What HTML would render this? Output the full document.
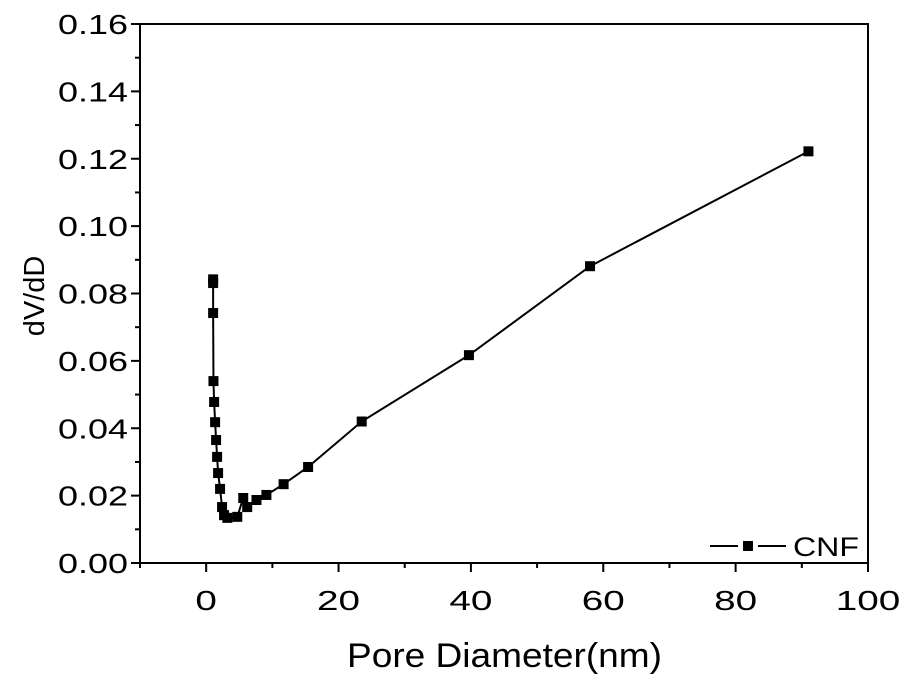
<!DOCTYPE html>
<html><head><meta charset="utf-8"><style>
html,body{margin:0;padding:0;background:#fff;}
svg{display:block;font-family:"Liberation Sans Narrow","Liberation Sans",Arial,sans-serif;}
</style></head><body>
<svg id="chart" width="900" height="679" viewBox="0 0 900 679">
<rect x="0" y="0" width="900" height="679" fill="#fff"/>
<g id="axes"></g><g id="series"></g>
<g>
<line x1="710" y1="546" x2="738" y2="546" stroke="#000" stroke-width="2"/>
<rect x="743" y="541" width="10" height="10" fill="#000"/>
<line x1="758" y1="546" x2="786" y2="546" stroke="#000" stroke-width="2"/>
<text x="793" y="556" font-size="27" textLength="66" lengthAdjust="spacingAndGlyphs">CNF</text>
</g>
<text x="347" y="667" font-size="34" textLength="315" lengthAdjust="spacingAndGlyphs">Pore Diameter(nm)</text>
<text transform="translate(44,296) rotate(-90)" font-size="29" text-anchor="middle">dV/dD</text>
</svg>
<script>
const xVals=[1.05,1.05,1.1,1.2,1.35,1.5,1.65,1.8,2.1,2.4,2.7,3.2,4.7,5.6,6.2,7.6,9.1,11.7,15.4,23.5,39.7,58,91];
const yVals=[0.0842,0.0831,0.0742,0.054,0.0478,0.0418,0.0365,0.0315,0.0267,0.022,0.0166,0.0142,0.0134,0.0137,0.0193,0.0166,0.0187,0.0202,0.0234,0.0285,0.042,0.0617,0.0881,0.1222];
const xTicks=[0,20,40,60,80,100];
const yTicks=[0,0.02,0.04,0.06,0.08,0.10,0.12,0.14,0.16];
const ns="http://www.w3.org/2000/svg";
const L=140,R=868,T=24,B=563;
const sx=v=>L+(v+10)/110*(R-L);
const sy=v=>B-v/0.16*(B-T);
const ax=document.getElementById('axes'),se=document.getElementById('series');
function mk(tag,at,par){const e=document.createElementNS(ns,tag);for(const k in at)e.setAttribute(k,at[k]);par.appendChild(e);return e;}
const frame=mk('rect',{x:L,y:T,width:R-L,height:B-T,fill:'none',stroke:'#000','stroke-width':2},ax);


for(let v=-10;v<=100;v+=10){const major=v%20===0;
 const t=mk('line',{x1:sx(v),x2:sx(v),y1:B,y2:B+(major?9:5),stroke:'#000','stroke-width':2},ax);
 
 }
xTicks.forEach(v=>{const s=String(v);const t=mk('text',{x:sx(v),y:B+47,'font-size':28,'text-anchor':'middle',textLength:s.length*21.5,lengthAdjust:'spacingAndGlyphs'},ax);t.textContent=s;
 
 });
for(let i=0;i<=16;i++){const v=i*0.01;const major=i%2===0;
 const t=mk('line',{x1:L,x2:L-(major?9:5),y1:sy(v),y2:sy(v),stroke:'#000','stroke-width':2},ax);
 
 }
yTicks.forEach(v=>{const t=mk('text',{x:L-12,y:sy(v)+10,'font-size':28,'text-anchor':'end',textLength:70,lengthAdjust:'spacingAndGlyphs'},ax);t.textContent=v.toFixed(2);
 
 });
const xs=[1.05].concat(xVals);
const pts=yVals.map((y,i)=>[sx(xs[i]),sy(y)]);
const line=mk('polyline',{points:pts.map(p=>p.join(',')).join(' '),fill:'none',stroke:'#000','stroke-width':2},se);


pts.forEach(p=>{const r=mk('rect',{x:p[0]-5,y:p[1]-5,width:10,height:10,fill:'#000'},se);
 
 });
</script>
</body></html>
